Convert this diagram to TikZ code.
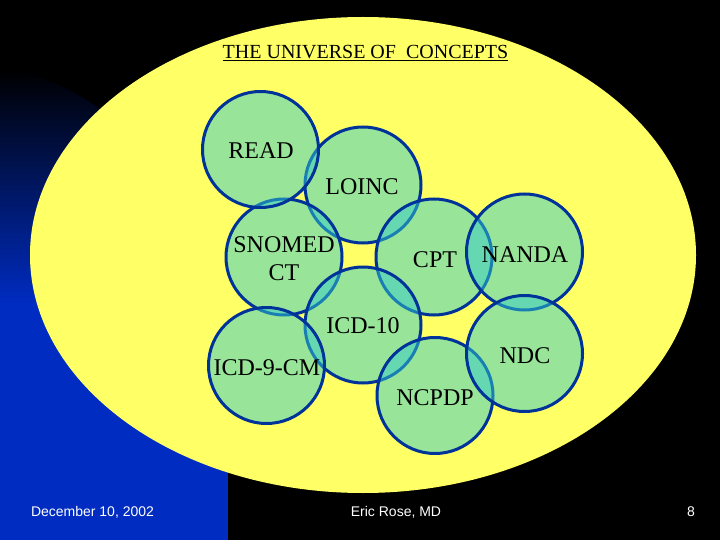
\documentclass[tikz,border=0pt]{standalone}
\usepackage{fontspec}
\setmainfont{Liberation Serif}
\newfontfamily\footfont{Liberation Sans}
\definecolor{bgyellow}{RGB}{255,255,102}
\definecolor{panelblue}{RGB}{0,44,194}
\definecolor{vennfill}{RGB}{51,204,204}
\definecolor{venndraw}{RGB}{0,51,153}
\pgfdeclareverticalshading{panelshade}{100bp}{color(0bp)=(panelblue); color(25bp)=(panelblue); color(50bp)=(panelblue); color(75bp)=(black); color(100bp)=(black)}
\tikzset{
  venn/.style={circle, minimum size=116pt, inner sep=0pt, outer sep=0pt,
    fill=vennfill, fill opacity=0.5, draw=venndraw, draw opacity=1, line width=3pt},
  lbl/.style={anchor=base, inner sep=0pt, text=black, font=\fontsize{24}{28}\selectfont},
  foot/.style={anchor=base, inner sep=0pt, text=white, font=\footfont\fontsize{14}{16}\selectfont}
}
\begin{document}
\begin{tikzpicture}[x=1pt, y=-1pt]
\useasboundingbox (0,0) rectangle (720,540);
\fill[black] (0,0) rectangle (720,540);
% blue side panel
\shade[shading=panelshade] (0,540) -- (0,70) .. controls (90,70) and (228,200) .. (228,330) -- (228,540) -- cycle;
% universe
\fill[bgyellow] (363,255) ellipse [x radius=333pt, y radius=238pt];
\node[inner sep=0pt, anchor=base, font=\fontsize{20}{24}\selectfont] (title) at (365.5,59) {\underline{THE UNIVERSE OF\ \ CONCEPTS}};
% circles
\node[venn] (loinc) at (363,185) {};
\node[venn] (snomed) at (284,257) {};
\node[venn] (read) at (260.5,149.5) {};
\node[venn] (cpt) at (434,257) {};
\node[venn] (nanda) at (524.5,252) {};
\node[venn] (icdten) at (363,325) {};
\node[venn] (icdnine) at (266.5,365.5) {};
\node[venn] (ncpdp) at (435,395.5) {};
\node[venn] (ndc) at (524.5,353.5) {};
% labels
\node[lbl] (readt) at (261,159) {READ};
\node[lbl] (loinct) at (362,195) {LOINC};
\node[lbl, align=center] (snomedt) at (284,280.5) {SNOMED\\CT};
\node[lbl] (cptt) at (435,267) {CPT};
\node[lbl] (nandat) at (525,262) {NANDA};
\node[lbl] (icdtent) at (363,333) {ICD-10};
\node[lbl] (icdninet) at (267,375) {ICD-9-CM};
\node[lbl] (ndct) at (525,363) {NDC};
\node[lbl] (ncpdpt) at (435,405) {NCPDP};
% footer
\node[foot] (date) at (92.5,516) {December 10, 2002};
\node[foot] (author) at (396,516) {Eric Rose, MD};
\node[foot] (page) at (691,516) {8};
\end{tikzpicture}
\end{document}
